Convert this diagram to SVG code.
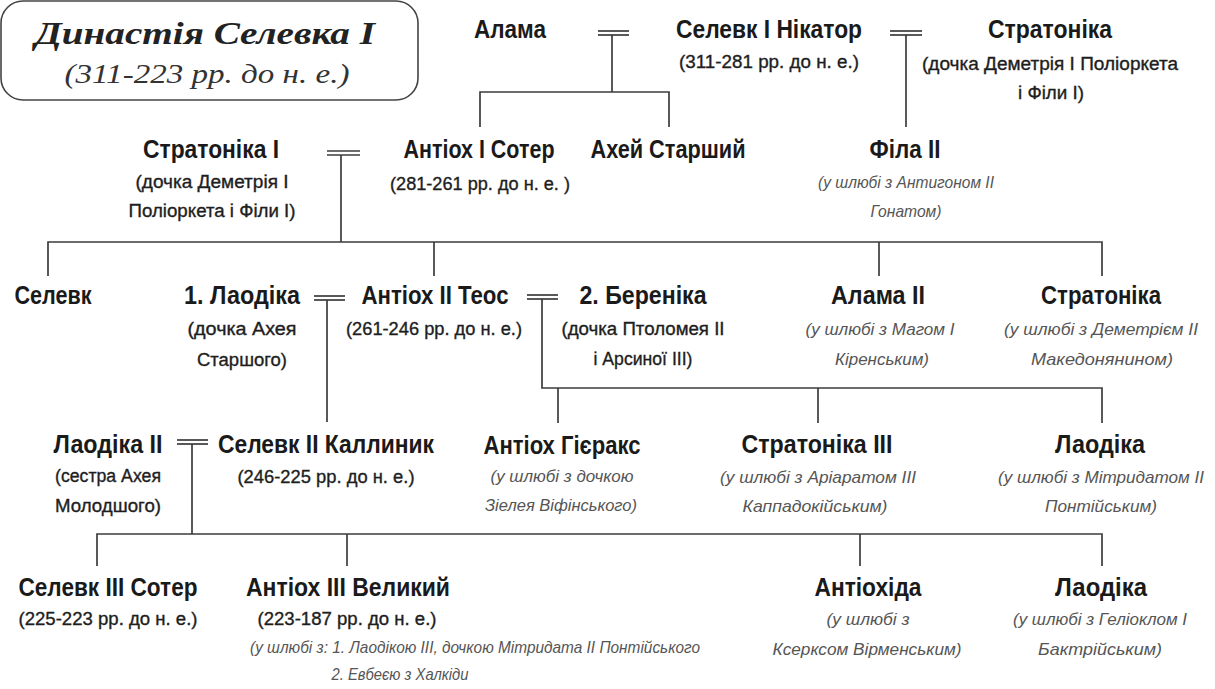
<svg xmlns="http://www.w3.org/2000/svg" width="1215" height="689" viewBox="0 0 1215 689">
<style>
text{text-anchor:middle;}
.n{font-family:"Liberation Sans",Arial,sans-serif;font-weight:bold;font-size:25px;fill:#1a1a1a;}
.s{font-family:"Liberation Sans",Arial,sans-serif;font-size:18px;fill:#1e1e1e;stroke:#1e1e1e;stroke-width:0.35;}
.i{font-family:"Liberation Sans",Arial,sans-serif;font-style:italic;font-size:17px;fill:#555;}
.t1{font-family:"Liberation Serif","Times New Roman",serif;font-weight:bold;font-style:italic;font-size:32px;fill:#222;}
.t2{font-family:"Liberation Serif","Times New Roman",serif;font-style:italic;font-size:28px;fill:#333;}
.c line,.c path{stroke:#3c3c3c;stroke-width:1.7;fill:none;}
.box{fill:#fff;stroke:#444;stroke-width:1.6;}
</style>
<rect width="1215" height="689" fill="#fff"/>
<g id="title">
<rect class="box" x="1" y="1" width="417" height="99" rx="22"/>
<text class="t1" x="205" y="44" textLength="340" lengthAdjust="spacingAndGlyphs">Династія Селевка I</text>
<text class="t2" x="207" y="83" textLength="285" lengthAdjust="spacingAndGlyphs">(311-223 рр. до н. е.)</text>
</g>
<g id="connectors" class="c">
<line x1="598" y1="31" x2="629" y2="31"/><line x1="598" y1="35" x2="629" y2="35"/>
<line x1="612" y1="35" x2="612" y2="92"/>
<path d="M480 127V92H669V127"/>
<line x1="890" y1="31" x2="922" y2="31"/><line x1="890" y1="35" x2="922" y2="35"/>
<line x1="906" y1="35" x2="906" y2="127"/>
<line x1="327" y1="151" x2="360" y2="151"/><line x1="327" y1="155" x2="360" y2="155"/>
<line x1="341" y1="155" x2="341" y2="242"/>
<path d="M48 276V242H1102V276"/>
<line x1="434" y1="242" x2="434" y2="276"/>
<line x1="879" y1="242" x2="879" y2="276"/>
<line x1="314" y1="296" x2="345" y2="296"/><line x1="314" y1="300" x2="345" y2="300"/>
<line x1="327" y1="300" x2="327" y2="422"/>
<line x1="527" y1="295" x2="558" y2="295"/><line x1="527" y1="299" x2="558" y2="299"/>
<path d="M542 299V388H1102V423"/>
<line x1="558" y1="388" x2="558" y2="423"/>
<line x1="818" y1="388" x2="818" y2="423"/>
<line x1="177" y1="440" x2="208" y2="440"/><line x1="177" y1="444" x2="208" y2="444"/>
<line x1="192" y1="444" x2="192" y2="534"/>
<path d="M97 566V534H1102V566"/>
<line x1="347" y1="534" x2="347" y2="566"/>
<line x1="860" y1="534" x2="860" y2="566"/>
</g>
<g id="alama">
<text class="n" x="510" y="38" textLength="72" lengthAdjust="spacingAndGlyphs">Алама</text>
</g>
<g id="seleucus1">
<text class="n" x="769" y="38" textLength="186" lengthAdjust="spacingAndGlyphs">Селевк I Нікатор</text>
<text class="s" x="769" y="68" textLength="180" lengthAdjust="spacingAndGlyphs">(311-281 рр. до н. е.)</text>
</g>
<g id="stratonice">
<text class="n" x="1050" y="38" textLength="124" lengthAdjust="spacingAndGlyphs">Стратоніка</text>
<text class="s" x="1050" y="70" textLength="256" lengthAdjust="spacingAndGlyphs">(дочка Деметрія І Поліоркета</text>
<text class="s" x="1051" y="99" textLength="66" lengthAdjust="spacingAndGlyphs">і Філи І)</text>
</g>
<g id="stratonice1">
<text class="n" x="211" y="158" textLength="136" lengthAdjust="spacingAndGlyphs">Стратоніка I</text>
<text class="s" x="212" y="188" textLength="153" lengthAdjust="spacingAndGlyphs">(дочка Деметрія I</text>
<text class="s" x="212" y="217" textLength="167" lengthAdjust="spacingAndGlyphs">Поліоркета і Філи І)</text>
</g>
<g id="antiochus1">
<text class="n" x="479" y="158" textLength="151" lengthAdjust="spacingAndGlyphs">Антіох І Сотер</text>
<text class="s" x="480" y="190" textLength="180" lengthAdjust="spacingAndGlyphs">(281-261 рр. до н. е. )</text>
</g>
<g id="achaeus">
<text class="n" x="668" y="158" textLength="155" lengthAdjust="spacingAndGlyphs">Ахей Старший</text>
</g>
<g id="phila2">
<text class="n" x="905" y="158" textLength="71" lengthAdjust="spacingAndGlyphs">Філа II</text>
<text class="i" x="906" y="188" textLength="176" lengthAdjust="spacingAndGlyphs">(у шлюбі з Антигоном II</text>
<text class="i" x="906" y="217" textLength="71" lengthAdjust="spacingAndGlyphs">Гонатом)</text>
</g>
<g id="seleucus">
<text class="n" x="53" y="304" textLength="77" lengthAdjust="spacingAndGlyphs">Селевк</text>
</g>
<g id="laodice1">
<text class="n" x="242" y="304" textLength="116" lengthAdjust="spacingAndGlyphs">1. Лаодіка</text>
<text class="s" x="242" y="335" textLength="109" lengthAdjust="spacingAndGlyphs">(дочка Ахея</text>
<text class="s" x="242" y="366" textLength="90" lengthAdjust="spacingAndGlyphs">Старшого)</text>
</g>
<g id="antiochus2">
<text class="n" x="435" y="304" textLength="147" lengthAdjust="spacingAndGlyphs">Антіох II Теос</text>
<text class="s" x="434" y="335" textLength="176" lengthAdjust="spacingAndGlyphs">(261-246 рр. до н. е.)</text>
</g>
<g id="berenice">
<text class="n" x="643" y="304" textLength="127" lengthAdjust="spacingAndGlyphs">2. Береніка</text>
<text class="s" x="643" y="335" textLength="163" lengthAdjust="spacingAndGlyphs">(дочка Птоломея II</text>
<text class="s" x="643" y="365" textLength="99" lengthAdjust="spacingAndGlyphs">і Арсиної III)</text>
</g>
<g id="alama2">
<text class="n" x="878" y="304" textLength="94" lengthAdjust="spacingAndGlyphs">Алама II</text>
<text class="i" x="880" y="335" textLength="149" lengthAdjust="spacingAndGlyphs">(у шлюбі з Магом I</text>
<text class="i" x="882" y="365" textLength="94" lengthAdjust="spacingAndGlyphs">Кіренським)</text>
</g>
<g id="stratonice2">
<text class="n" x="1101" y="304" textLength="120" lengthAdjust="spacingAndGlyphs">Стратоніка</text>
<text class="i" x="1101" y="335" textLength="194" lengthAdjust="spacingAndGlyphs">(у шлюбі з Деметрієм II</text>
<text class="i" x="1102" y="365" textLength="142" lengthAdjust="spacingAndGlyphs">Македонянином)</text>
</g>
<g id="laodice2">
<text class="n" x="108" y="453" textLength="109" lengthAdjust="spacingAndGlyphs">Лаодіка II</text>
<text class="s" x="108" y="482" textLength="106" lengthAdjust="spacingAndGlyphs">(сестра Ахея</text>
<text class="s" x="108" y="512" textLength="106" lengthAdjust="spacingAndGlyphs">Молодшого)</text>
</g>
<g id="seleucus2">
<text class="n" x="326" y="453" textLength="216" lengthAdjust="spacingAndGlyphs">Селевк II Каллиник</text>
<text class="s" x="326" y="483" textLength="177" lengthAdjust="spacingAndGlyphs">(246-225 рр. до н. е.)</text>
</g>
<g id="hierax">
<text class="n" x="562" y="454" textLength="157" lengthAdjust="spacingAndGlyphs">Антіох Гієракс</text>
<text class="i" x="562" y="482" textLength="143" lengthAdjust="spacingAndGlyphs">(у шлюбі з дочкою</text>
<text class="i" x="561" y="511" textLength="152" lengthAdjust="spacingAndGlyphs">Зіелея Віфінського)</text>
</g>
<g id="stratonice3">
<text class="n" x="817" y="453" textLength="151" lengthAdjust="spacingAndGlyphs">Стратоніка III</text>
<text class="i" x="818" y="483" textLength="196" lengthAdjust="spacingAndGlyphs">(у шлюбі з Аріаратом III</text>
<text class="i" x="815" y="512" textLength="145" lengthAdjust="spacingAndGlyphs">Каппадокійським)</text>
</g>
<g id="laodice3">
<text class="n" x="1100" y="453" textLength="90" lengthAdjust="spacingAndGlyphs">Лаодіка</text>
<text class="i" x="1101" y="483" textLength="206" lengthAdjust="spacingAndGlyphs">(у шлюбі з Мітридатом II</text>
<text class="i" x="1101" y="512" textLength="112" lengthAdjust="spacingAndGlyphs">Понтійським)</text>
</g>
<g id="seleucus3">
<text class="n" x="108" y="596" textLength="179" lengthAdjust="spacingAndGlyphs">Селевк III Сотер</text>
<text class="s" x="108" y="625" textLength="179" lengthAdjust="spacingAndGlyphs">(225-223 рр. до н. е.)</text>
</g>
<g id="antiochus3">
<text class="n" x="348" y="596" textLength="204" lengthAdjust="spacingAndGlyphs">Антіох III Великий</text>
<text class="s" x="347" y="625" textLength="179" lengthAdjust="spacingAndGlyphs">(223-187 рр. до н. е.)</text>
<text class="i" x="475" y="653" font-size="15" textLength="450" lengthAdjust="spacingAndGlyphs">(у шлюбі з: 1. Лаодікою III, дочкою Мітридата II Понтійського</text>
<text class="i" x="400" y="680" font-size="15" textLength="137" lengthAdjust="spacingAndGlyphs">2. Евбеєю з Халкіди</text>
</g>
<g id="antiochis">
<text class="n" x="868" y="596" textLength="107" lengthAdjust="spacingAndGlyphs">Антіохіда</text>
<text class="i" x="868" y="625" textLength="83" lengthAdjust="spacingAndGlyphs">(у шлюбі з</text>
<text class="i" x="867" y="655" textLength="189" lengthAdjust="spacingAndGlyphs">Ксерксом Вірменським)</text>
</g>
<g id="laodice4">
<text class="n" x="1101" y="596" textLength="92" lengthAdjust="spacingAndGlyphs">Лаодіка</text>
<text class="i" x="1100" y="625" textLength="174" lengthAdjust="spacingAndGlyphs">(у шлюбі з Геліоклом I</text>
<text class="i" x="1100" y="655" textLength="124" lengthAdjust="spacingAndGlyphs">Бактрійським)</text>
</g>
</svg>
